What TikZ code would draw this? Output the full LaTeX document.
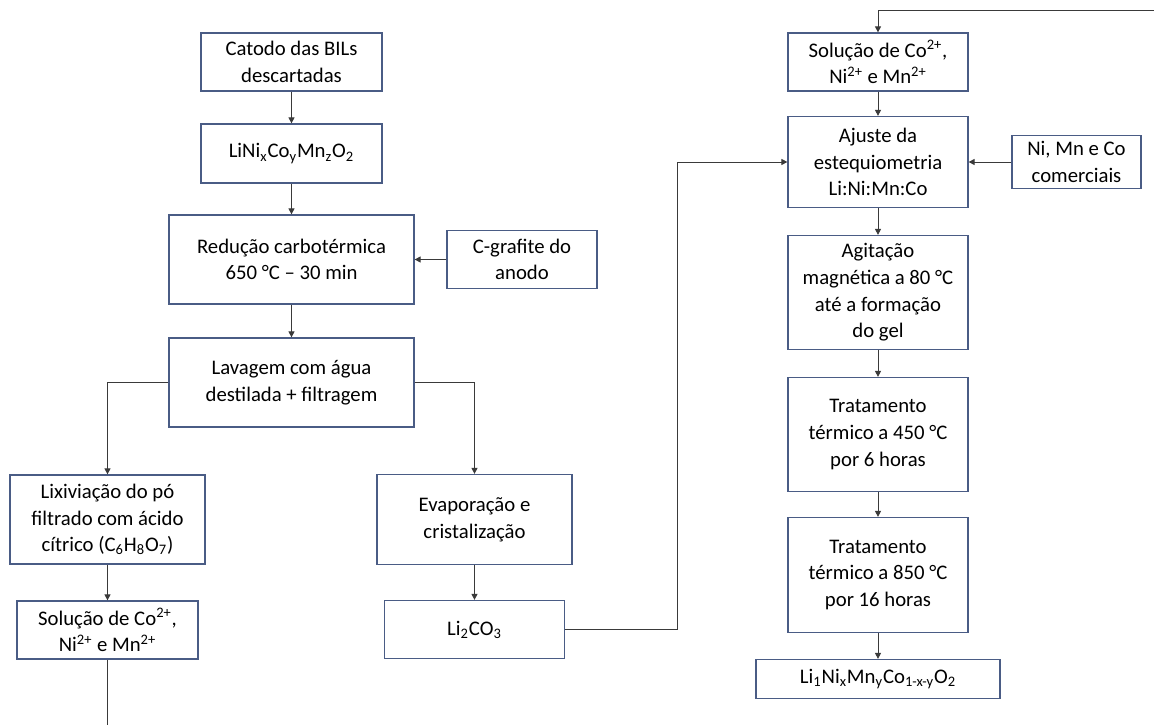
\documentclass[tikz,border=0pt]{standalone}
\usepackage{fontspec}
\setmainfont{Carlito}
\usepackage{tikz}
\usetikzlibrary{arrows, arrows.meta, positioning}
\definecolor{boxline}{HTML}{4A5C85}
\definecolor{linegray}{HTML}{3A3A3A}
\tikzstyle{process} = [rectangle, minimum width=3.62cm, minimum height=1.16cm, text centered, align=center, draw=boxline, line width=0.7pt, fill=white]
\tikzstyle{arrow} = [line width=0.55pt, draw=linegray, -{Triangle[length=3.4pt, width=3.4pt]}]
\tikzstyle{line} = [line width=0.55pt, draw=linegray]
\tikzset{
  font={\fontsize{11.8pt}{15.2pt}\selectfont}}

\begin{document}
\begin{tikzpicture}[node distance = 2cm]
    \useasboundingbox (0,0) rectangle (23.08,-14.5);
    % coluna da esquerda
    \node (catodo) [process] at (5.83,-1.24) {Catodo das BILs\\descartadas};
    \node (linicomn) [process, below of=catodo, yshift=0.17cm, minimum height=1.18cm] {LiNi\textsubscript{x}Co\textsubscript{y}Mn\textsubscript{z}O\textsubscript{2}};
    \node (reducao) [process, below of=linicomn, yshift=-0.12cm, minimum width=4.9cm, minimum height=1.78cm] {Redução carbotérmica\\650 °C – 30 min};
    \node (grafite) [process, right of=reducao, xshift=2.61cm, minimum width=3cm] {C-grafite do\\anodo};
    \node (lavagem) [process, below of=reducao, yshift=-0.46cm, minimum width=4.9cm, minimum height=1.78cm] {Lavagem com água\\destilada + filtragem};
    \node (lixiviacao) [process, below of=lavagem, xshift=-3.68cm, yshift=-0.74cm, minimum width=3.9cm, minimum height=1.78cm] {Lixiviação do pó\\filtrado com ácido\\cítrico (C\textsubscript{6}H\textsubscript{8}O\textsubscript{7})};
    \node (solucaoesq) [process, below of=lixiviacao, yshift=-0.21cm] {Solução de Co\textsuperscript{2+},\\Ni\textsuperscript{2+} e Mn\textsuperscript{2+}};
    \node (evaporacao) [process, right of=lixiviacao, xshift=5.34cm, minimum width=3.9cm, minimum height=1.8cm] {Evaporação e\\cristalização};
    \node (carbonato) [process, below of=evaporacao, yshift=-0.2cm, minimum width=3.6cm] {Li\textsubscript{2}CO\textsubscript{3}};

    % coluna da direita
    \node (solucaodir) [process, right of=catodo, xshift=9.73cm, minimum width=3.6cm] {Solução de Co\textsuperscript{2+},\\Ni\textsuperscript{2+} e Mn\textsuperscript{2+}};
    \node (ajuste) [process, below of=solucaodir, minimum width=3.6cm, minimum height=1.82cm] {Ajuste da\\estequiometria\\Li:Ni:Mn:Co};
    \node (comerciais) [process, right of=ajuste, xshift=1.97cm, minimum width=2.58cm, minimum height=1.02cm] {Ni, Mn e Co\\comerciais};
    \node (agitacao) [process, below of=ajuste, yshift=-0.61cm, minimum width=3.6cm, minimum height=2.28cm] {Agitação\\magnética a 80 °C\\até a formação\\do gel};
    \node (tratum) [process, below of=agitacao, yshift=-0.84cm, minimum width=3.6cm, minimum height=2.28cm] {Tratamento\\térmico a 450 °C\\por 6 horas};
    \node (tratdois) [process, below of=tratum, yshift=-0.81cm, minimum width=3.6cm, minimum height=2.3cm] {Tratamento\\térmico a 850 °C\\por 16 horas};
    \node (produto) [process, below of=tratdois, yshift=-0.08cm, minimum width=4.88cm, minimum height=0.78cm] {Li\textsubscript{1}Ni\textsubscript{x}Mn\textsubscript{y}Co\textsubscript{1-x-y}O\textsubscript{2}};

    \coordinate (topo) at (23.08,-0.214);
    \coordinate (fundo) at (0,-14.5);

    \draw [arrow] (catodo) -- (linicomn);
    \draw [arrow] (linicomn) -- (reducao);
    \draw [arrow] (grafite) -- (reducao);
    \draw [arrow] (reducao) -- (lavagem);
    \draw [arrow] (lavagem.west) -| (lixiviacao.north);
    \draw [arrow] (lavagem.east) -| (evaporacao.north);
    \draw [arrow] (lixiviacao) -- (solucaoesq);
    \draw [line] (solucaoesq.south) -- (solucaoesq.south |- fundo);
    \draw [arrow] (evaporacao) -- (carbonato);
    \draw [arrow] (carbonato.east) -- ++(2.24,0) |- (ajuste.west);

    \draw [arrow] (topo) -| (solucaodir.north);
    \draw [arrow] (solucaodir) -- (ajuste);
    \draw [arrow] (comerciais) -- (ajuste);
    \draw [arrow] (ajuste) -- (agitacao);
    \draw [arrow] (agitacao) -- (tratum);
    \draw [arrow] (tratum) -- (tratdois);
    \draw [arrow] (tratdois) -- (produto);
\end{tikzpicture}
\end{document}
